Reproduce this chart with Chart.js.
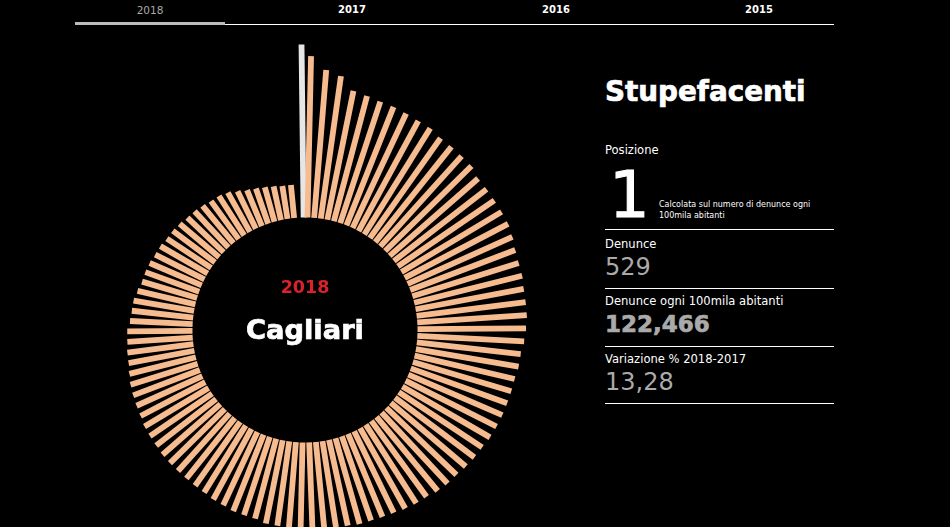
<!DOCTYPE html>
<html>
<head>
<meta charset="utf-8">
<script src="https://cdn.jsdelivr.net/npm/chart.js@4"></script>
<style>
  html, body { margin: 0; height: 100%; background: #000; overflow: hidden; }
  body { font-family: "DejaVu Sans", sans-serif; color: #fff; }
  #chart { position: absolute; left: 5px; top: 30px; }
  .t { position: absolute; white-space: nowrap; line-height: 1; }
  .rule { position: absolute; left: 605px; width: 229px; height: 1px; background: #fff; }
  .label { left: 605px; font-size: 11.55px; }
  .num { left: 605px; font-size: 24px; color: #aaa; }
  .heavy { font-weight: 700; -webkit-text-stroke: 0.7px currentColor; }
</style>
</head>
<body>
<canvas id="chart" width="600" height="600"></canvas>

<div id="tabs"></div>
<div style="position:absolute;left:75px;top:24px;width:759px;height:1px;background:#fff"></div>
<div style="position:absolute;left:75px;top:22px;width:150px;height:3px;background:#bbb"></div>

<div class="t" style="left:246px;width:118px;top:279px;font-size:17.5px;font-weight:700;color:#d8232a;text-align:center">2018</div>
<div class="t heavy" style="left:246px;top:316px;font-size:27.3px">Cagliari</div>

<div class="t heavy" style="left:605px;top:78px;font-size:27.8px">Stupefacenti</div>
<div class="t label" style="top:145px">Posizione</div>
<div class="t" style="left:609px;top:163px;font-size:64px;-webkit-text-stroke:1px #fff">1</div>
<div class="t" style="left:659px;top:199px;font-size:8px;line-height:11px">Calcolata sul numero di denunce ogni<br>100mila abitanti</div>
<div class="rule" style="top:229px"></div>
<div class="t label" style="top:239px">Denunce</div>
<div class="t num" style="top:255px">529</div>
<div class="rule" style="top:288px"></div>
<div class="t label" style="top:296px">Denunce ogni 100mila abitanti</div>
<div class="t num heavy" style="top:313px;font-size:23px">122,466</div>
<div class="rule" style="top:346px"></div>
<div class="t label" style="top:354px">Variazione % 2018-2017</div>
<div class="t num" style="top:370px">13,28</div>
<div class="rule" style="top:403px"></div>

<script>
const years = ['2018', '2017', '2016', '2015'];
const yearCenters = [150, 352, 556, 759];

// denunce ogni 100mila abitanti, provinces in rank order
const rates = [
  122.466, 114.3, 105.1, 101.9, 93.1, 91.7, 90.6, 90.3, 89.5, 88.8,
  88.5, 86.7, 86.4, 86.0, 85.8, 83.2, 83.0, 82.8, 82.7, 82.6,
  81.3, 79.6, 78.9, 78.8, 77.9, 77.8, 77.7, 76.8, 75.7, 74.0,
  73.8, 72.8, 72.7, 72.6, 72.5, 72.2, 71.8, 70.8, 70.4, 69.7,
  68.7, 68.6, 68.0, 66.4, 66.1, 65.3, 64.2, 63.6, 63.1, 63.0,
  62.1, 61.6, 61.2, 61.0, 60.7, 60.5, 60.3, 60.1, 58.5, 58.4,
  58.3, 57.3, 56.8, 55.8, 55.3, 54.9, 54.7, 54.6, 54.4, 53.7,
  53.4, 52.9, 51.7, 51.1, 50.5, 49.8, 48.5, 47.4, 47.1, 46.4,
  46.2, 44.4, 43.7, 43.5, 42.1, 40.7, 40.6, 40.1, 39.1, 38.7,
  37.6, 37.4, 36.7, 35.5, 35.2, 34.3, 33.3, 33.1, 31.9, 29.5,
  27.5, 26.4, 25.3, 24.4, 23.6, 23.5
];
const ranks = rates.map((_, i) => String(i + 1));

years.forEach((y, i) => {
  const d = document.createElement('div');
  d.className = 't';
  d.textContent = y;
  d.style.cssText = 'top:5px;width:60px;text-align:center;left:' + (yearCenters[i] - 30) + 'px;' +
    (i === 0 ? 'font-size:10.5px;color:#aaa' : 'font-size:10px;font-weight:700');
  document.getElementById('tabs').appendChild(d);
});

// polar arcs give the angles and radii, but the bars have a constant width
const barWidth = 5.8;
const radialBars = {
  id: 'radialBars',
  beforeDatasetDraw(chart, args) {
    const ctx = chart.ctx;
    const base = chart.scales.r.getDistanceFromCenterForValue(0);
    args.meta.data.forEach((arc) => {
      ctx.save();
      ctx.translate(arc.x, arc.y);
      ctx.rotate((arc.startAngle + arc.endAngle) / 2);
      ctx.fillStyle = arc.options.backgroundColor;
      ctx.fillRect(base, -barWidth / 2, arc.outerRadius - base, barWidth);
      ctx.restore();
    });
    return false;
  },
};

new Chart(document.getElementById('chart'), {
  type: 'polarArea',
  data: {
    labels: ranks,
    datasets: [{
      data: rates,
      angle: (c) => (c.dataIndex === 0 ? 0.54 : 3.396),
      backgroundColor: (c) => (c.dataIndex === 0 ? '#e6e6e6' : '#f7bb90'),
      borderWidth: 0,
    }],
  },
  options: {
    responsive: false,
    animation: false,
    devicePixelRatio: 1,
    plugins: { legend: { display: false }, tooltip: { enabled: false } },
    scales: {
      r: {
        min: -79.64,
        max: 132.73,
        startAngle: -0.97,
        ticks: { display: false },
        grid: { display: false },
        angleLines: { display: false },
        pointLabels: { display: false },
      },
    },
  },
  plugins: [radialBars],
});
</script>
</body>
</html>
